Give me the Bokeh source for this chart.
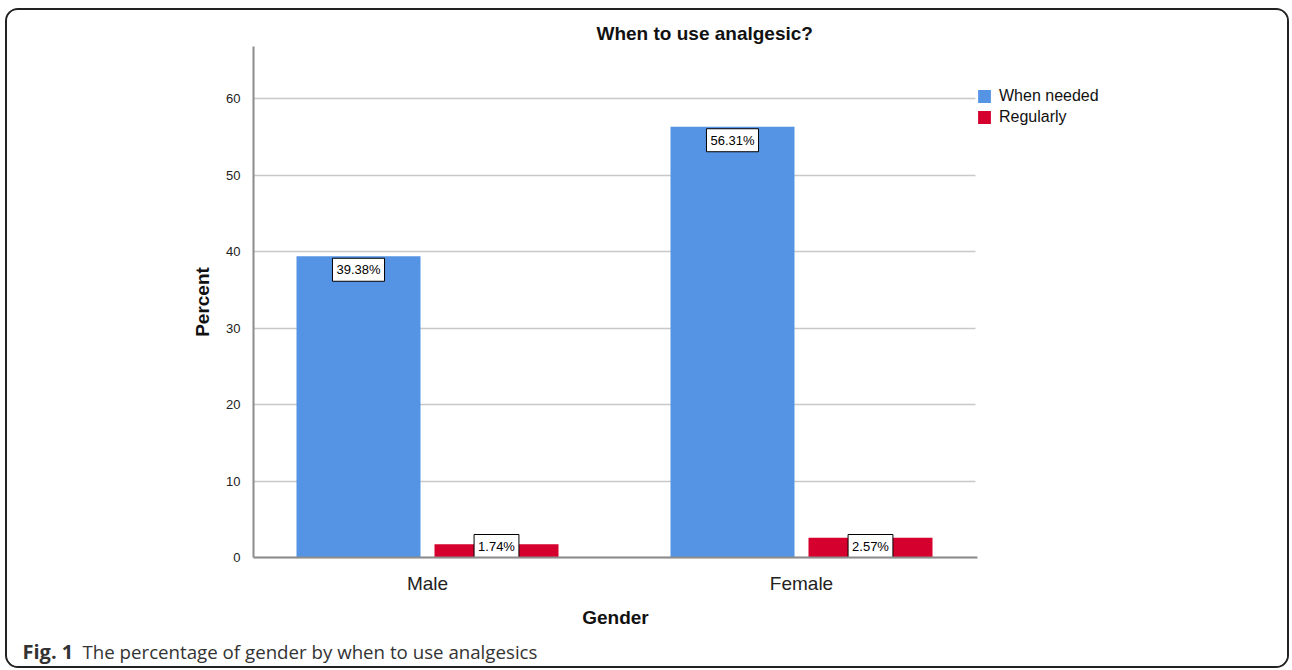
from bokeh.plotting import figure
from bokeh.models import Range1d, FixedTicker, Legend, LegendItem, ColumnDataSource, Label
from bokeh.core.properties import value
from bokeh.embed import file_html
from bokeh.resources import INLINE

# ---- data ----
genders = ["Male", "Female"]
series = ["When needed", "Regularly"]
when_needed = [39.38, 56.31]
regularly = [1.74, 2.57]
label_needed = ["39.38%", "56.31%"]
label_regular = ["1.74%", "2.57%"]
y_ticks = [0, 10, 20, 30, 40, 50, 60]
chart_title = "When to use analgesic?"
caption_bold = "Fig. 1"
caption_text = "The percentage of gender by when to use analgesics"

BLUE = "#5594e4"
RED = "#d6002e"
FONT = "Liberation Sans"

# ---- layout constants (page pixels) ----
ORG_X, ORG_Y = 7, 10            # canvas origin on the page (inside the border)
W, H = 1280, 656                # visible box inside the border
CW, CH = W + 4, H + 4           # canvas size (border-box measured by bokeh)
AX_L, AX_R, AX_B = 253, 977, 557  # plot area edges on the page
PX_PER_CAT = 374.0
Y_MAX = 66.8
PX_PER_Y = (AX_B - 46) / Y_MAX
X0 = -(427 - AX_L) / PX_PER_CAT   # data x at the y axis
BAR_W = 124.0 / PX_PER_CAT
DODGE = 69.0 / PX_PER_CAT

def dx(px):  # page x -> data x
    return X0 + (px - AX_L) / PX_PER_CAT

def dy(py):  # page y -> data y
    return (AX_B - py) / PX_PER_Y

p = figure(width=CW, height=CH, min_border=0,
           x_range=Range1d(dx(ORG_X), dx(ORG_X + CW)),
           y_range=Range1d(dy(ORG_Y + CH), dy(ORG_Y)),
           output_backend="svg", toolbar_location=None, title=None)
p.styles = {"border": "2px solid #222", "border-radius": "13px",
            "margin-left": "5px", "margin-top": "8px",
            "width": f"{W}px", "height": f"{H}px", "box-sizing": "content-box",
            "overflow": "hidden", "background-color": "white"}
p.outline_line_color = None
p.background_fill_color = "white"
p.border_fill_color = "white"

xs = list(range(len(genders)))
src = ColumnDataSource(dict(
    x_n=[x - DODGE for x in xs], x_r=[x + DODGE for x in xs],
    needed=when_needed, regular=regularly,
    ln=label_needed, lr=label_regular,
    zero=[0] * len(xs)))

r1 = p.vbar(x="x_n", top="needed", width=BAR_W, source=src,
            fill_color=BLUE, line_color=None)
r2 = p.vbar(x="x_r", top="regular", width=BAR_W, source=src,
            fill_color=RED, line_color=None)

common = dict(text_font=value(FONT), text_font_size="13px", text_color="black",
              text_align="center", background_fill_color="white",
              border_line_color="black", border_line_width=1, padding=4)
p.text(x="x_n", y="needed", text="ln", source=src, text_baseline="top",
       y_offset=2, **common)
p.text(x="x_r", y="zero", text="lr", source=src, text_baseline="bottom",
       y_offset=0, **common)

# axes, pinned to the plot area
x_axis_end = dx(AX_R)
p.xaxis.fixed_location = 0
p.xaxis.bounds = (X0, x_axis_end)
p.yaxis.fixed_location = X0
p.yaxis.bounds = (0, Y_MAX)
p.xaxis.ticker = FixedTicker(ticks=xs)
p.xaxis.major_label_overrides = {i: g for i, g in enumerate(genders)}
p.yaxis.ticker = FixedTicker(ticks=y_ticks)
for ax in (p.xaxis[0], p.yaxis[0]):
    ax.axis_line_color = "#8c8c8c"
    ax.axis_line_width = 2
    ax.major_tick_line_color = None
    ax.minor_tick_line_color = None
    ax.major_label_text_font = FONT
    ax.axis_label_text_font = FONT
    ax.axis_label_text_font_style = "bold"
    ax.axis_label_text_font_size = "19px"
    ax.axis_label_text_color = "#111"
    ax.major_label_text_color = "#222"
p.xaxis.axis_label = "Gender"
p.yaxis.axis_label = "Percent"
p.xaxis.major_label_text_font_size = "19px"
p.yaxis.major_label_text_font_size = "13px"
p.xaxis.major_label_standoff = 9
p.yaxis.major_label_standoff = 7
p.xaxis.axis_label_standoff = 10
p.yaxis.axis_label_standoff = 10

p.xgrid.grid_line_color = None
p.ygrid.grid_line_color = "#c8c8c8"
p.ygrid.grid_line_width = 1.5
p.ygrid.cross_bounds = (X0, dx(AX_R - 2))

# title
p.add_layout(Label(x=dx(596), y=dy(33), text=chart_title, text_font=FONT,
                   text_font_style="bold", text_font_size="19px", text_color="#111",
                   text_align="left", text_baseline="middle"))

# caption
p.add_layout(Label(x=dx(22), y=dy(651), text=caption_bold, text_font="Open Sans",
                   text_font_style="bold", text_font_size="20px", text_color="#333",
                   text_align="left", text_baseline="middle"))
p.add_layout(Label(x=dx(82), y=dy(651), text=caption_text, text_font="Open Sans",
                   text_font_size="18.7px", text_color="#333",
                   text_align="left", text_baseline="middle"))

# legend just right of the plot area
legend = Legend(items=[LegendItem(label=series[0], renderers=[r1]),
                       LegendItem(label=series[1], renderers=[r2])],
                location=(969, 544), margin=0, padding=0, spacing=3,
                glyph_width=16, glyph_height=16, label_height=16,
                label_standoff=7, label_text_font=FONT, label_text_font_size="16px",
                label_text_color="#111", border_line_color=None,
                background_fill_alpha=0)
p.add_layout(legend, "center")

open("out.html", "w").write(file_html(p, INLINE))
